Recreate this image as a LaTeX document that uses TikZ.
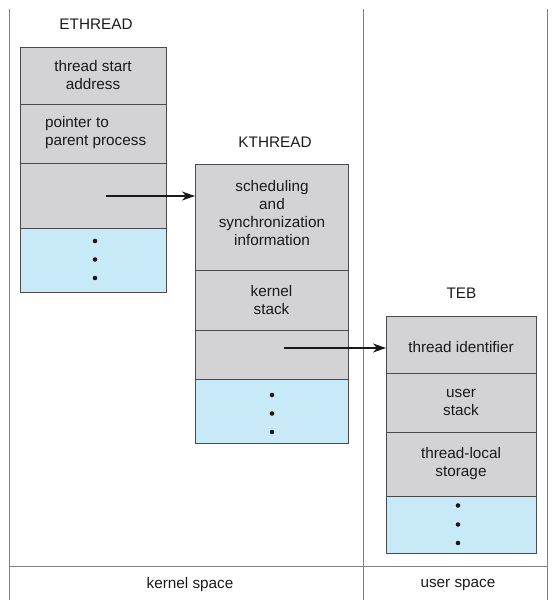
\documentclass[tikz,border=0pt]{standalone}
\usepackage{fontspec}
\setmainfont{Liberation Sans}
\usetikzlibrary{arrows.meta}
\definecolor{cellgray}{HTML}{D3D3D5}
\definecolor{cellblue}{HTML}{C8E9F8}
\definecolor{edge}{HTML}{4A4A4A}
\definecolor{frameln}{HTML}{808080}
\definecolor{ink}{HTML}{1A1A1A}
\tikzset{
  x=1pt, y=1pt,
  every node/.style={font=\fontsize{15.3}{18}\selectfont, text=ink, inner sep=0pt, outer sep=0pt},
  cell/.style={draw=edge, line width=1pt, fill=cellgray, anchor=north west, minimum width=#1},
  bluecell/.style={cell=#1, fill=cellblue},
  title/.style={font=\fontsize{15.3}{18}\selectfont},
  frameline/.style={draw=frameln, line width=1pt},
  ptr/.style={draw=ink, line width=1.4pt, -{Stealth[length=13pt,width=9pt,inset=4pt]}},
  dot/.style={circle, fill=ink, minimum size=4.6pt}
}
\begin{document}
\begin{tikzpicture}
\useasboundingbox (0,0) rectangle (553,-600);
% frame
\draw[frameline] (9,-9) -- (9,-600);
\draw[frameline] (363,-9) -- (363,-600);
\draw[frameline] (547,-9) -- (547,-600);
\draw[frameline] (9,-566) -- (547,-566);
\node (ks) at (190,-585) {kernel space};
\node (us) at (458,-585) {user space};

% ETHREAD
\node[title] (eth) at (96,-24) {ETHREAD};
\node[cell=146pt, minimum height=57pt] (e1) at (20,-47) {};
\node[cell=146pt, minimum height=59pt] (e2) at (20,-104) {};
\node[cell=146pt, minimum height=65pt] (e3) at (20,-163) {};
\node[bluecell=146pt, minimum height=64pt] (e4) at (20,-228) {};
\node[align=center] (e1t) at (e1.center) {thread start\\address};
\node[align=left, anchor=west] (e2t) at (45,-133) {pointer to\\parent process};
\node[dot] (ed1) at (95,-241) {};
\node[dot] (ed2) at (95,-259.5) {};
\node[dot] (ed3) at (95,-278) {};

% KTHREAD
\node[title] (kth) at (275,-142.5) {KTHREAD};
\node[cell=153pt, minimum height=106pt] (k1) at (195,-164) {};
\node[cell=153pt, minimum height=60pt] (k2) at (195,-270) {};
\node[cell=153pt, minimum height=49pt] (k3) at (195,-330) {};
\node[bluecell=153pt, minimum height=64pt] (k4) at (195,-379) {};
\node[align=center] (k1t) at (272,-213) {scheduling\\and\\synchronization\\information};
\node[align=center] (k2t) at (k2.center) {kernel\\stack};
\node[dot] (kd1) at (272,-395) {};
\node[dot] (kd2) at (272,-413.5) {};
\node[dot] (kd3) at (272,-432) {};

% TEB
\node[title] (teb) at (461.5,-293) {TEB};
\node[cell=150pt, minimum height=57pt] (t1) at (386,-316) {};
\node[cell=150pt, minimum height=59pt] (t2) at (386,-373) {};
\node[cell=150pt, minimum height=64pt] (t3) at (386,-432) {};
\node[bluecell=150pt, minimum height=57pt] (t4) at (386,-496) {};
\node (t1t) at (461,-347) {thread identifier};
\node[align=center] (t2t) at (t2.center) {user\\stack};
\node[align=center] (t3t) at (t3.center) {thread-local\\storage};
\node[dot] (td1) at (458,-505.5) {};
\node[dot] (td2) at (458,-524.5) {};
\node[dot] (td3) at (458,-543) {};

% pointers
\coordinate (p1) at (106,-196);
\coordinate (p2) at (284,-348);
\draw[ptr] (p1) -- (p1 -| k1.west);
\draw[ptr] (p2) -- (p2 -| t1.west);
\end{tikzpicture}
\end{document}
